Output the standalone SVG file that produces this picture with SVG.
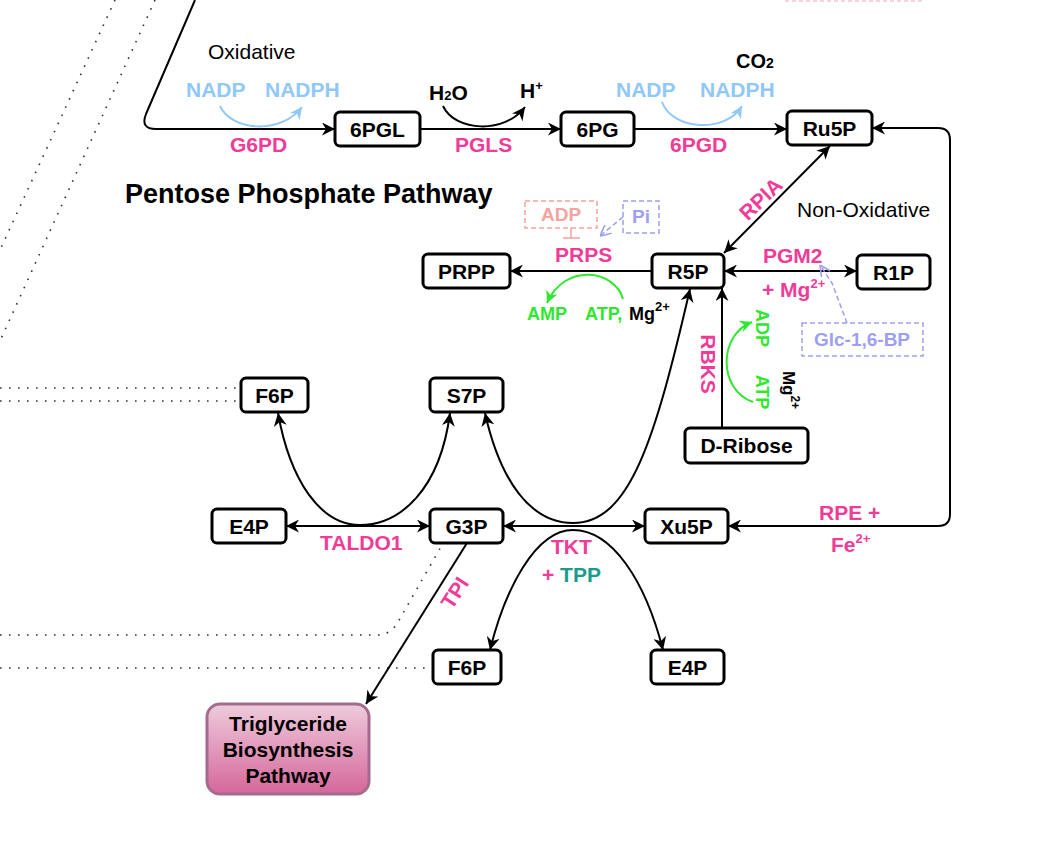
<svg xmlns="http://www.w3.org/2000/svg" width="1060" height="856" viewBox="0 0 1060 856">
<defs>
<style>
.node rect{fill:#fff;stroke:#000;stroke-width:3}
.nl{font-family:"Liberation Sans",Arial,sans-serif;font-weight:bold;font-size:21px;text-anchor:middle;fill:#000}
.t{font-family:"Liberation Sans",Arial,sans-serif;font-weight:bold;font-size:21px}
.r{font-family:"Liberation Sans",Arial,sans-serif;font-size:21px;fill:#000}
.pk{fill:#f03c96}
.bl{fill:#90c8f8}
.gr{fill:#2ee82e;font-size:18px}
.edge{fill:none;stroke:#000;stroke-width:2}
.dot{fill:none;stroke:#333;stroke-width:1.6;stroke-dasharray:1.6 7.4}
</style>
<marker id="a" viewBox="0 0 10 10" refX="10" refY="5" markerWidth="13" markerHeight="13" markerUnits="userSpaceOnUse" orient="auto-start-reverse"><path d="M0,0 L10,5 L0,10 L3,5 z" fill="#000"/></marker>
<marker id="ab" viewBox="0 0 10 10" refX="10" refY="5" markerWidth="12" markerHeight="12" markerUnits="userSpaceOnUse" orient="auto"><path d="M0,0 L10,5 L0,10 L3,5 z" fill="#90c8f8"/></marker>
<marker id="ag" viewBox="0 0 10 10" refX="10" refY="5" markerWidth="12" markerHeight="12" markerUnits="userSpaceOnUse" orient="auto"><path d="M0,0 L10,5 L0,10 L3,5 z" fill="#2ee82e"/></marker>
<marker id="ap" viewBox="0 0 10 10" refX="10" refY="5" markerWidth="11" markerHeight="11" markerUnits="userSpaceOnUse" orient="auto"><path d="M0,0 L10,5 L0,10" fill="none" stroke="#9f9ff2" stroke-width="1.5"/></marker>
<linearGradient id="tg" x1="0" y1="0" x2="0" y2="1"><stop offset="0" stop-color="#eecbdc"/><stop offset="1" stop-color="#d5679a"/></linearGradient>
</defs>

<g id="background-dotted">
<path class="dot" d="M115 0 L0 250"/>
<path class="dot" d="M155 0 L0 341"/>
<path class="dot" d="M0 388 L241 388"/>
<path class="dot" d="M0 401 L241 401"/>
<path class="dot" d="M0 635 L380 635 Q392 633 398 622 L442 545"/>
<path class="dot" d="M0 668 L433 668"/>
<path d="M785 1 L925 1" fill="none" stroke="#f7c3cf" stroke-width="1.5" stroke-dasharray="4 3"/>
</g>

<g id="connectors">
<path class="edge" d="M195 0 L146 114 Q140 129 156 129 L335 129" marker-end="url(#a)"/>
<path class="edge" d="M420 129 L561 129" marker-end="url(#a)"/>
<path class="edge" d="M634 129 L787 129" marker-end="url(#a)"/>
<path class="edge" d="M830 146 L724 253" marker-start="url(#a)" marker-end="url(#a)"/>
<path class="edge" d="M652 271 L510 271" marker-end="url(#a)"/>
<path class="edge" d="M724 271 L857 271" marker-start="url(#a)" marker-end="url(#a)"/>
<path class="edge" d="M722 428 L722 288" marker-end="url(#a)"/>
<path class="edge" d="M485 413 C500 480 530 523 573 523 C630 523 655 440 690 289" marker-start="url(#a)" marker-end="url(#a)"/>
<path class="edge" d="M278 413 C290 480 320 525 360 525 C400 525 440 490 450 413" marker-start="url(#a)" marker-end="url(#a)"/>
<path class="edge" d="M286 526 L430 526" marker-start="url(#a)" marker-end="url(#a)"/>
<path class="edge" d="M503 526 L645 526" marker-start="url(#a)" marker-end="url(#a)"/>
<path class="edge" d="M490 650 C505 590 535 530 573 530 C612 530 645 580 663 650" marker-start="url(#a)" marker-end="url(#a)"/>
<path class="edge" d="M467 543 L366 704" marker-end="url(#a)"/>
<path class="edge" d="M872 128 L938 128 Q950 128 950 140 L950 514 Q950 526 938 526 L728 526" marker-start="url(#a)" marker-end="url(#a)"/>
<path d="M220 106 C232 132 282 134 302 107" fill="none" stroke="#90c8f8" stroke-width="2" marker-end="url(#ab)"/>
<path d="M662 102 C672 130 725 134 742 106" fill="none" stroke="#90c8f8" stroke-width="2" marker-end="url(#ab)"/>
<path class="edge" d="M443 106 C455 132 505 134 525 107" marker-end="url(#a)"/>
<path d="M623 299 C615 270 565 262 547 303" fill="none" stroke="#2ee82e" stroke-width="2" marker-end="url(#ag)"/>
<path d="M753 402 C718 390 718 335 752 322" fill="none" stroke="#2ee82e" stroke-width="2" marker-end="url(#ag)"/>
<path d="M571 228 L571 238 M563 238 L580 238" fill="none" stroke="#f4a3a0" stroke-width="1.5"/>
<path d="M623 217 L600 236" fill="none" stroke="#9f9ff2" stroke-width="1.5" stroke-dasharray="5 3" marker-end="url(#ap)"/>
<path d="M847 323 L832 283 L820 265" fill="none" stroke="#9f9ff2" stroke-width="1.5" stroke-dasharray="5 3" marker-end="url(#ap)"/>
</g>

<g id="n6PGL" class="node"><rect x="335" y="112" width="85" height="34" rx="5"/><text class="nl" x="377.5" y="136.5">6PGL</text></g>
<g id="n6PG" class="node"><rect x="561" y="112" width="73" height="34" rx="5"/><text class="nl" x="597.5" y="136.5">6PG</text></g>
<g id="nRu5P" class="node"><rect x="787" y="111" width="85" height="34" rx="5"/><text class="nl" x="829.5" y="135.5">Ru5P</text></g>
<g id="nPRPP" class="node"><rect x="423" y="254" width="87" height="34" rx="5"/><text class="nl" x="466.5" y="278.5">PRPP</text></g>
<g id="nR5P" class="node"><rect x="652" y="254" width="72" height="34" rx="5"/><text class="nl" x="688" y="278.5">R5P</text></g>
<g id="nR1P" class="node"><rect x="857" y="255" width="73" height="34" rx="5"/><text class="nl" x="893.5" y="279.5">R1P</text></g>
<g id="nDRibose" class="node"><rect x="685" y="428" width="123" height="35" rx="5"/><text class="nl" x="746.5" y="453">D-Ribose</text></g>
<g id="nF6P1" class="node"><rect x="241" y="378" width="67" height="34" rx="5"/><text class="nl" x="274.5" y="402.5">F6P</text></g>
<g id="nS7P" class="node"><rect x="430" y="378" width="73" height="34" rx="5"/><text class="nl" x="466.5" y="402.5">S7P</text></g>
<g id="nE4P1" class="node"><rect x="212" y="509" width="74" height="34" rx="5"/><text class="nl" x="249" y="533.5">E4P</text></g>
<g id="nG3P" class="node"><rect x="430" y="509" width="73" height="34" rx="5"/><text class="nl" x="466.5" y="533.5">G3P</text></g>
<g id="nXu5P" class="node"><rect x="645" y="509" width="83" height="34" rx="5"/><text class="nl" x="686.5" y="533.5">Xu5P</text></g>
<g id="nF6P2" class="node"><rect x="433" y="650" width="68" height="34" rx="5"/><text class="nl" x="467" y="674.5">F6P</text></g>
<g id="nE4P2" class="node"><rect x="651" y="650" width="73" height="34" rx="5"/><text class="nl" x="687.5" y="674.5">E4P</text></g>
<g id="nTriglyceride"><rect x="207" y="704" width="162" height="90" rx="13" fill="url(#tg)" stroke="#a46b8e" stroke-width="3"/>
<text class="nl" x="288" y="731">Triglyceride</text><text class="nl" x="288" y="757">Biosynthesis</text><text class="nl" x="288" y="783">Pathway</text></g>

<g id="labels">
<text class="r" x="208" y="59">Oxidative</text>
<text class="t bl" x="186" y="97">NADP</text>
<text class="t bl" x="265" y="97">NADPH</text>
<text class="t pk" x="230" y="152">G6PD</text>
<text class="t" x="429" y="100">H<tspan font-size="13">2</tspan>O</text>
<text class="t" x="520" y="98">H<tspan font-size="13" dy="-8">+</tspan></text>
<text class="t pk" x="455" y="152">PGLS</text>
<text class="t bl" x="616" y="97">NADP</text>
<text class="t bl" x="700" y="97">NADPH</text>
<text class="t" x="736" y="68" style="font-size:20px">CO<tspan font-size="14">2</tspan></text>
<text class="t pk" x="670" y="152">6PGD</text>
<text class="t" x="125" y="203" style="font-size:27px">Pentose Phosphate Pathway</text>
<text class="t pk" transform="translate(761,199) rotate(-44)" text-anchor="middle" y="7">RPIA</text>
<text class="r" x="797" y="217">Non-Oxidative</text>
<rect x="525" y="201" width="72" height="27" fill="none" stroke="#f4a3a0" stroke-width="1.5" stroke-dasharray="5 3"/>
<text class="t" x="561" y="221" style="font-size:19px" fill="#f4a3a0" text-anchor="middle">ADP</text>
<rect x="623" y="201" width="36" height="32" fill="none" stroke="#9f9ff2" stroke-width="1.5" stroke-dasharray="5 3"/>
<text class="t" x="641" y="223" style="font-size:19px" fill="#9f9ff2" text-anchor="middle">Pi</text>
<text class="t pk" x="555" y="262">PRPS</text>
<text class="t gr" x="527" y="320">AMP</text>
<text class="t gr" x="585" y="320">ATP,</text>
<text class="t" x="629" y="320" style="font-size:18px">Mg<tspan font-size="13" dy="-9">2+</tspan></text>
<text class="t pk" x="763" y="263">PGM2</text>
<text class="t pk" x="762" y="297">+ Mg<tspan font-size="13" dy="-9">2+</tspan></text>
<rect x="802" y="323" width="121" height="33" fill="none" stroke="#9f9ff2" stroke-width="1.5" stroke-dasharray="5 3"/>
<text class="t" x="862" y="346" style="font-size:19px" fill="#9f9ff2" text-anchor="middle">Glc-1,6-BP</text>
<text class="t pk" transform="translate(708,364) rotate(90)" text-anchor="middle" y="7">RBKS</text>
<text class="t gr" transform="translate(762,328) rotate(90)" text-anchor="middle" y="6">ADP</text>
<text class="t gr" transform="translate(762,392) rotate(90)" text-anchor="middle" y="6">ATP</text>
<text class="t" transform="translate(789,390) rotate(90)" text-anchor="middle" y="6" style="font-size:17px">Mg<tspan font-size="12" dy="-8">2+</tspan></text>
<text class="t pk" x="320" y="550">TALDO1</text>
<text class="t pk" x="551" y="554">TKT</text>
<text class="t" x="542" y="582"><tspan class="pk">+ </tspan><tspan fill="#1a9c8c">TPP</tspan></text>
<text class="t pk" transform="translate(455,593) rotate(-57)" text-anchor="middle" y="7">TPI</text>
<text class="t pk" x="819" y="520">RPE +</text>
<text class="t pk" x="831" y="552">Fe<tspan font-size="13" dy="-9">2+</tspan></text>
</g>
</svg>
